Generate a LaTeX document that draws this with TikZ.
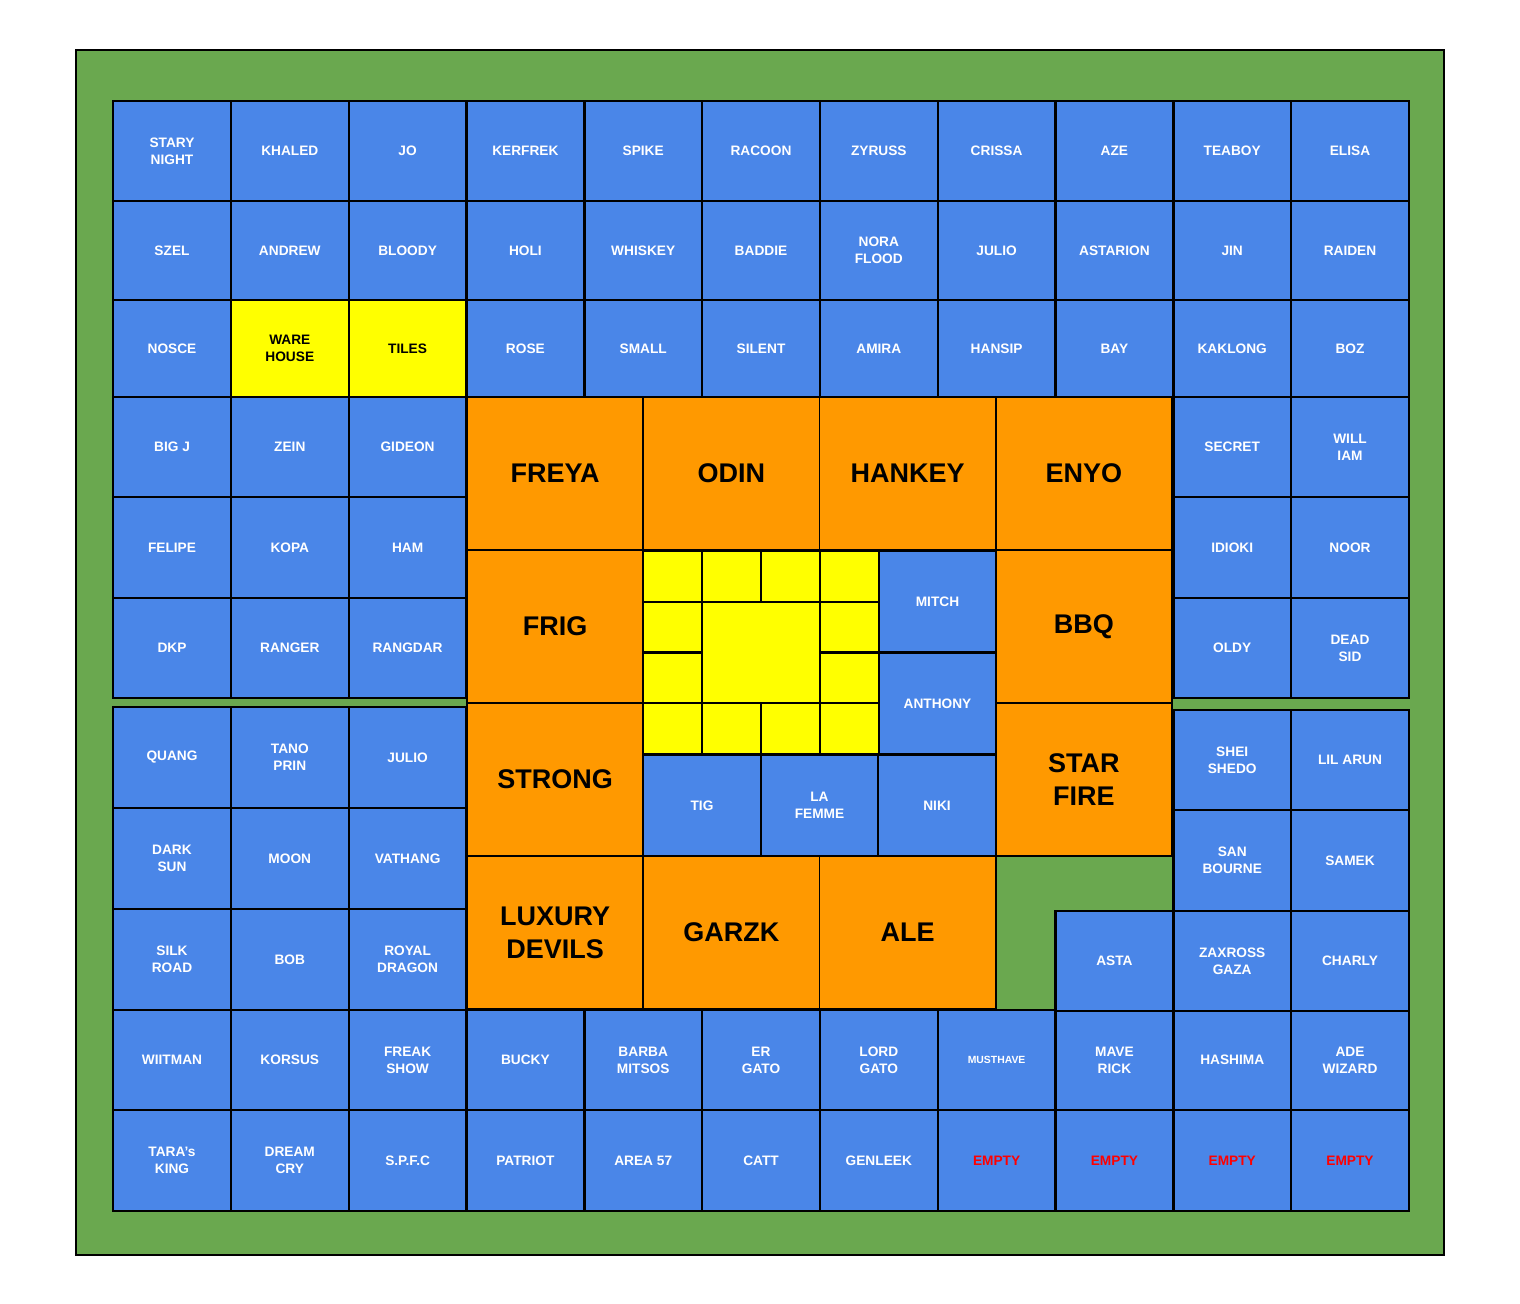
\documentclass[tikz,border=0pt]{standalone}
\usepackage{fontspec}
\setmainfont{Liberation Sans}
\definecolor{fieldgreen}{HTML}{6AA84F}
\definecolor{seatblue}{HTML}{4A86E8}
\definecolor{standorange}{HTML}{FF9900}
\definecolor{markyellow}{HTML}{FFFF00}
\definecolor{emptyred}{HTML}{FF0000}
\tikzset{
  field/.style={rectangle,draw=black,line width=0.9pt,fill=fieldgreen,inner sep=0pt,minimum width=684pt,minimum height=602.5pt},
  seat/.style={rectangle,draw=black,line width=1.2pt,fill=seatblue,text=white,align=center,inner sep=0pt,minimum width=58.9pt,font=\bfseries\fontsize{6.85}{8.5}\selectfont},
  spot/.style={seat,fill=markyellow,text=black},
  vacant/.style={seat,text=emptyred},
  tiny/.style={seat,font=\bfseries\fontsize{5.2}{6.5}\selectfont},
  stand/.style={rectangle,draw=black,line width=0.9pt,fill=standorange,text=black,align=center,inner sep=0pt,minimum width=88.125pt,minimum height=76.5pt,font=\bfseries\fontsize{13.5}{16.5}\selectfont},
  core/.style={rectangle,draw=black,line width=1.2pt,fill=markyellow,inner sep=0pt,minimum width=29.5pt,minimum height=25.375pt}
}
\begin{document}
\begin{tikzpicture}[x=0.5pt,y=-0.5pt]
  \useasboundingbox (0,0) rectangle (1520,1303);
  \node[field] (field) at (760,652.5) {};
  % full rows
  \foreach \who/\kind [count=\i from 0] in {STARY\\NIGHT/seat,KHALED/seat,JO/seat,KERFREK/seat,SPIKE/seat,RACOON/seat,ZYRUSS/seat,CRISSA/seat,AZE/seat,TEABOY/seat,ELISA/seat}
    \node[\kind,minimum height=50pt] (rowa-\i) at (172+117.8*\i,151) {\who};
  \foreach \who/\kind [count=\i from 0] in {SZEL/seat,ANDREW/seat,BLOODY/seat,HOLI/seat,WHISKEY/seat,BADDIE/seat,NORA\\FLOOD/seat,JULIO/seat,ASTARION/seat,JIN/seat,RAIDEN/seat}
    \node[\kind,minimum height=49.5pt] (rowb-\i) at (172+117.8*\i,250.5) {\who};
  \foreach \who/\kind [count=\i from 0] in {NOSCE/seat,WARE\\HOUSE/spot,TILES/spot,ROSE/seat,SMALL/seat,SILENT/seat,AMIRA/seat,HANSIP/seat,BAY/seat,KAKLONG/seat,BOZ/seat}
    \node[\kind,minimum height=48.5pt] (rowc-\i) at (172+117.8*\i,348.5) {\who};
  \foreach \who/\kind [count=\i from 0] in {WIITMAN/seat,KORSUS/seat,FREAK\\SHOW/seat,BUCKY/seat,BARBA\\MITSOS/seat,ER\\GATO/seat,LORD\\GATO/seat,MUSTHAVE/tiny,MAVE\\RICK/seat,HASHIMA/seat,ADE\\WIZARD/seat}
    \node[\kind,minimum height=50pt] (rowj-\i) at (172+117.8*\i,1060) {\who};
  \foreach \who/\kind [count=\i from 0] in {TARA's\\KING/seat,DREAM\\CRY/seat,S.P.F.C/seat,PATRIOT/seat,AREA 57/seat,CATT/seat,GENLEEK/seat,EMPTY/vacant,EMPTY/vacant,EMPTY/vacant,EMPTY/vacant}
    \node[\kind,minimum height=50.5pt] (rowk-\i) at (172+117.8*\i,1160.5) {\who};
  % left side
  \foreach \who/\i/\y/\h in {BIG J/0/397/100,ZEIN/1/397/100,GIDEON/2/397/100,
      FELIPE/0/497/101,KOPA/1/497/101,HAM/2/497/101,
      DKP/0/598/100,RANGER/1/598/100,RANGDAR/2/598/100,
      QUANG/0/707/101,TANO\\PRIN/1/707/101,JULIO/2/707/101,
      DARK\\SUN/0/808/101,MOON/1/808/101,VATHANG/2/808/101,
      SILK\\ROAD/0/909/101,BOB/1/909/101,ROYAL\\DRAGON/2/909/101}
    \node[seat,minimum height=\h*0.5pt] (left-\i-\y) at (172+117.8*\i,\y+\h/2) {\who};
  % right side
  \foreach \who/\i/\y/\h in {SECRET/9/397/100,WILL\\IAM/10/397/100,
      IDIOKI/9/497/101,NOOR/10/497/101,
      OLDY/9/598/100,DEAD\\SID/10/598/100,
      SHEI\\SHEDO/9/710/100,LIL ARUN/10/710/100,
      SAN\\BOURNE/9/810/101,SAMEK/10/810/101,
      ASTA/8/911/100,ZAXROSS\\GAZA/9/911/100,CHARLY/10/911/100}
    \node[seat,minimum height=\h*0.5pt] (right-\i-\y) at (172+117.8*\i,\y+\h/2) {\who};
  % orange stands
  \foreach \who/\i/\j in {FREYA/0/0,ODIN/1/0,HANKEY/2/0,ENYO/3/0,FRIG/0/1,BBQ/3/1,
      STRONG/0/2,STAR\\FIRE/3/2,LUXURY\\DEVILS/0/3,GARZK/1/3,ALE/2/3}
    \node[stand] (stand-\i-\j) at (555.125+176.25*\i,473.5+153*\j) {\who};
  % yellow core
  \foreach \i/\j in {0/0,1/0,2/0,3/0,0/1,3/1,0/2,3/2,0/3,1/3,2/3,3/3}
    \node[core] (core-\i-\j) at (672.5+59*\i,576.375+50.75*\j) {};
  \node[core,minimum width=59pt,minimum height=50.75pt] (core-mid) at (761,652.5) {};
  % inner blue
  \node[seat,minimum width=58.5pt,minimum height=50.5pt] (mitch) at (937.5,601.5) {MITCH};
  \node[seat,minimum width=58.5pt,minimum height=50.5pt] (anthony) at (937.5,703.5) {ANTHONY};
  \node[seat,minimum width=59pt,minimum height=50.5pt] (tig) at (702,805.5) {TIG};
  \node[seat,minimum width=58.5pt,minimum height=50.5pt] (lafemme) at (819.5,805.5) {LA\\FEMME};
  \node[seat,minimum width=59pt,minimum height=50.5pt] (niki) at (937,805.5) {NIKI};
\end{tikzpicture}
\end{document}
